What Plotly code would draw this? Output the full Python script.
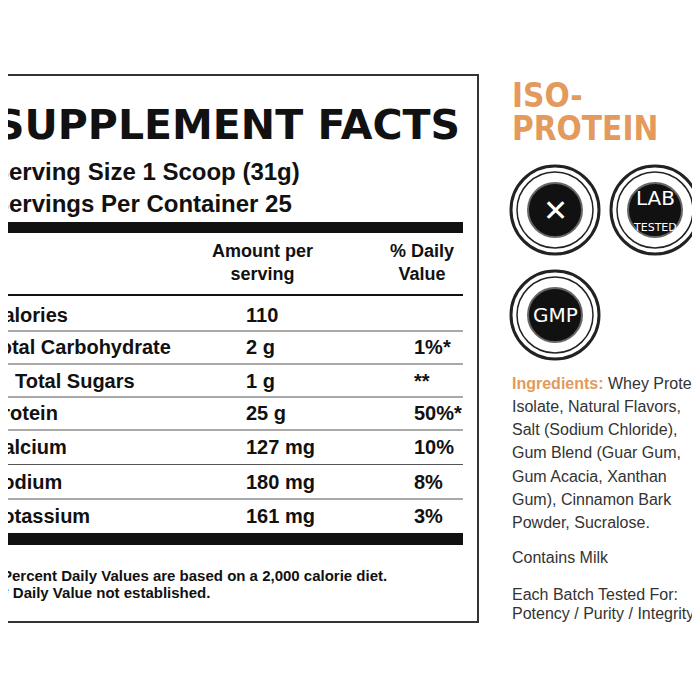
import plotly.graph_objects as go

nutrients = ["Calories", "Total Carbohydrate", "Total Sugars", "Protein", "Calcium", "Sodium", "Potassium"]
amounts = ["110", "2 g", "1 g", "25 g", "127 mg", "180 mg", "161 mg"]
daily = ["", "1%*", "**", "50%*", "10%", "8%", "3%"]
indent = [0, 0, 1, 0, 0, 0, 0]
row_y = [315, 347, 381, 413, 447, 482, 516]

ingredient_lines = ["<span style='color:#e39a5c'><b>Ingredients:</b></span> Whey Protein",
                    "Isolate, Natural Flavors,", "Salt (Sodium Chloride),", "Gum Blend (Guar Gum,",
                    "Gum Acacia, Xanthan", "Gum), Cinnamon Bark", "Powder, Sucralose."]
badges = [("✕", 555, 210), ("LAB<br><span style='font-size:11px'>TESTED</span>", 655, 210),
          ("GMP", 555, 315)]

F = "Liberation Sans"
OFF = 8  # page body margin
fig = go.Figure()
shapes = []
ann = []

def txt(x, y, s, size, anchor="left", bold=True, color="#111", family=F):
    ann.append(dict(x=(x - OFF) / 700, y=1 - (y - OFF) / 700, xref="paper", yref="paper",
                    text=("<b>%s</b>" % s) if bold else s, showarrow=False,
                    xanchor=anchor, yanchor="middle", font=dict(size=size, color=color, family=family)))

# label box
shapes.append(dict(type="rect", x0=-20, x1=478, y0=75, y1=622, line=dict(color="#333", width=2)))
shapes.append(dict(type="rect", x0=-20, x1=463, y0=222, y1=233, fillcolor="#111", line_width=0))
shapes.append(dict(type="line", x0=-20, x1=463, y0=295, y1=295, line=dict(color="#111", width=2)))
shapes.append(dict(type="rect", x0=-20, x1=463, y0=533, y1=545, fillcolor="#111", line_width=0))
for i in range(len(row_y) - 1):
    yl = (row_y[i] + row_y[i + 1]) / 2
    shapes.append(dict(type="line", x0=-20, x1=463, y0=yl, y1=yl, line=dict(color="#555", width=1)))

txt(462, 125, "SUPPLEMENT FACTS", 41, "right", family="DejaVu Sans")
txt(-9, 171, "Serving Size 1 Scoop (31g)", 24)
txt(-9, 203, "Servings Per Container 25", 24)
txt(262, 262, "Amount per<br>serving", 18, "center")
txt(422, 262, "% Daily<br>Value", 18, "center")
for n, a, d, ind, y in zip(nutrients, amounts, daily, indent, row_y):
    txt(13 if ind else -13, y, n, 20)
    txt(244, y, a, 20)
    txt(412, y, d, 20)
txt(-10, 575, "* Percent Daily Values are based on a 2,000 calorie diet.", 15)
txt(-5, 592, "** Daily Value not established.", 15)

# right panel
txt(510, 96, "ISO-", 33, color="#e39a5c", family="DejaVu Sans Condensed")
txt(510, 128, "PROTEIN", 33, color="#e39a5c", family="DejaVu Sans Condensed")
for inner, cx, cy in badges:
    shapes.append(dict(type="circle", x0=cx - 44, x1=cx + 44, y0=cy - 44, y1=cy + 44,
                       fillcolor="white", line=dict(color="#222", width=3)))
    shapes.append(dict(type="circle", x0=cx - 38, x1=cx + 38, y0=cy - 38, y1=cy + 38,
                       line=dict(color="#222", width=1.5)))
    shapes.append(dict(type="circle", x0=cx - 27, x1=cx + 27, y0=cy - 27, y1=cy + 27,
                       fillcolor="#111", line=dict(color="#666", width=2)))
    txt(cx, cy, inner, 20 if inner != "✕" else 30, "center", bold=False, color="white", family="DejaVu Sans")
for i, s in enumerate(ingredient_lines):
    txt(510, 383 + i * 23.3, s, 16, bold=False, color="#333")
txt(510, 557, "Contains Milk", 16, bold=False, color="#333")
txt(510, 594, "Each Batch Tested For:", 16, bold=False, color="#333")
txt(510, 613, "Potency / Purity / Integrity", 16, bold=False, color="#333")

fig.update_layout(width=700, height=700, margin=dict(l=0, r=0, t=0, b=0),
                  plot_bgcolor="white", paper_bgcolor="white", shapes=shapes, annotations=ann,
                  xaxis=dict(range=[OFF, 700 + OFF], visible=False, fixedrange=True),
                  yaxis=dict(range=[700 + OFF, OFF], visible=False, fixedrange=True), showlegend=False)
fig.write_html("out.html")
